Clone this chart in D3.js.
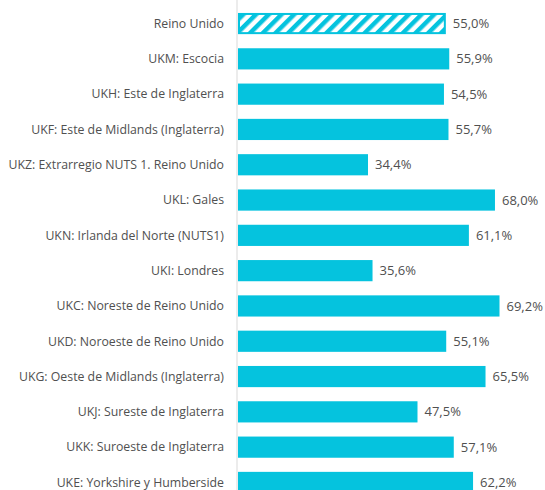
<!DOCTYPE html>
<html><head><meta charset="utf-8">
<script src="https://cdn.jsdelivr.net/npm/d3@7"></script>
<style>body{margin:0;background:#fff;}svg{display:block;}</style>
</head><body>
<script>
const categories = ["Reino Unido","UKM: Escocia","UKH: Este de Inglaterra","UKF: Este de Midlands (Inglaterra)","UKZ: Extrarregio NUTS 1. Reino Unido","UKL: Gales","UKN: Irlanda del Norte (NUTS1)","UKI: Londres","UKC: Noreste de Reino Unido","UKD: Noroeste de Reino Unido","UKG: Oeste de Midlands (Inglaterra)","UKJ: Sureste de Inglaterra","UKK: Suroeste de Inglaterra","UKE: Yorkshire y Humberside"];
const values = [55.0,55.9,54.5,55.7,34.4,68.0,61.1,35.6,69.2,55.1,65.5,47.5,57.1,62.2];
const hatched = ["Reino Unido"];

const W=545,H=490;
const svg=d3.select("body").append("svg").attr("width",W).attr("height",H);
const color="#05C3DE";
const defs=svg.append("defs");
const pat=defs.append("pattern").attr("id","hatch").attr("patternUnits","userSpaceOnUse")
  .attr("width",9).attr("height",9).attr("patternTransform","rotate(45)");
pat.append("rect").attr("width",9).attr("height",9).attr("fill","#fff");
pat.append("rect").attr("x",0).attr("width",4.5).attr("height",9).attr("fill",color);

const x0=238;
const x=d3.scaleLinear().domain([0,69.2]).range([x0,x0+261.5]);
const y=d3.scaleBand().domain(categories).range([5.9,500.1]).paddingInner(0.4).paddingOuter(0.2);

svg.append("line").attr("x1",x0-1).attr("x2",x0-1).attr("y1",0).attr("y2",H).attr("stroke","#d9d9d9").attr("stroke-width",1);

const fmt=v=>v.toFixed(1).replace(".",",")+"%";
const g=svg.append("g");
categories.forEach((c,i)=>{
  const v=values[i], yy=y(c), bh=y.bandwidth();
  if(hatched.includes(c)){
    g.append("rect").attr("x",x(0)+1).attr("y",yy+1).attr("width",x(v)-x(0)-2).attr("height",bh-2)
      .attr("fill","url(#hatch)").attr("stroke",color).attr("stroke-width",2);
  } else {
    g.append("rect").attr("x",x(0)).attr("y",yy).attr("width",x(v)-x(0)).attr("height",bh).attr("fill",color);
  }
  g.append("text").attr("x",x(v)+7).attr("y",yy+bh/2).attr("dy","0.35em")
    .attr("font-family","Open Sans, sans-serif").attr("font-size",13).attr("fill","#505050").text(fmt(v));
  g.append("text").attr("x",224).attr("y",yy+bh/2).attr("dy","0.35em").attr("text-anchor","end")
    .attr("font-family","Open Sans, sans-serif").attr("font-size",12.3).attr("fill","#505050").text(c);
});
</script>
</body></html>
